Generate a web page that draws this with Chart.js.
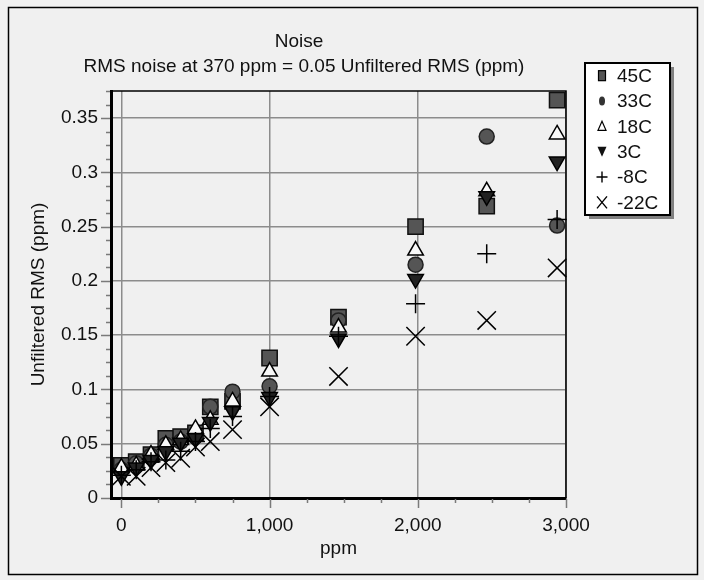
<!DOCTYPE html>
<html><head><meta charset="utf-8">
<script src="https://cdn.jsdelivr.net/npm/chart.js@4/dist/chart.umd.min.js"></script>
<style>html,body{margin:0;padding:0;background:#f0f0f0}#wrap{width:704px;height:580px;position:relative}</style>
</head><body><div id="wrap"><canvas id="c" width="704" height="580"></canvas></div>
<script>
// ---- data ----
const xValues = [0, 100, 200, 300, 400, 500, 600, 750, 1000, 1465, 1985, 2465, 2940];
const seriesNames = ['45C', '33C', '18C', '3C', '-8C', '-22C'];
const s45C  = [0.030, 0.0335, 0.040, 0.055, 0.0566, 0.060, 0.084, 0.089, 0.129, 0.1667, 0.250, 0.269, 0.3665];
const s33C  = [0.026, 0.032, 0.039, 0.049, 0.052, 0.058, 0.084, 0.098, 0.103, 0.1636, 0.215, 0.333, 0.251];
const s18C  = [0.028, 0.030, 0.040, 0.049, 0.0535, 0.0636, 0.072, 0.089, 0.1165, 0.157, 0.228, 0.2826, 0.335];
const s3C   = [0.020, 0.028, 0.035, 0.043, 0.051, 0.055, 0.070, 0.080, 0.093, 0.147, 0.2017, 0.278, 0.310];
const sM8C  = [0.021, 0.026, 0.0335, 0.035, 0.043, 0.052, 0.064, 0.075, 0.0935, 0.149, 0.179, 0.225, 0.2565];
const sM22C = [0.020, 0.020, 0.028, 0.0326, 0.0366, 0.047, 0.052, 0.063, 0.084, 0.112, 0.149, 0.1636, 0.212];
const xTickValues = [0, 1000, 2000, 3000];
const yTickValues = [0, 0.05, 0.1, 0.15, 0.2, 0.25, 0.3, 0.35];
const titleText = 'Noise';
const subtitleText = 'RMS noise at 370 ppm = 0.05 Unfiltered RMS (ppm)';
const xTitle = 'ppm';
const yTitle = 'Unfiltered RMS (ppm)';
const xMinorStep = 250, yMinorStep = 0.0125;

const FONT = "'Liberation Sans', Arial, Helvetica, sans-serif";
const FS = 19;

const styles = [
  {pointStyle: 'rect', radius: 10.8, bg: '#555555', border: '#111111', bw: 1.5, rot: 0},
  {pointStyle: 'circle', radius: 7.5, bg: '#555555', border: '#222222', bw: 1.5, rot: 0},
  {pointStyle: 'triangle', radius: 9, bg: '#f8f8f8', border: '#000000', bw: 1.5, rot: 0},
  {pointStyle: 'triangle', radius: 9, bg: '#222222', border: '#000000', bw: 1.5, rot: 180},
  {pointStyle: 'cross', radius: 9.5, bg: '#000000', border: '#000000', bw: 1.5, rot: 0},
  {pointStyle: 'crossRot', radius: 13, bg: '#000000', border: '#000000', bw: 1.5, rot: 0}
];
const seriesValues = [s45C, s33C, s18C, s3C, sM8C, sM22C];

const datasets = seriesNames.map((name, i) => ({
  label: name,
  data: xValues.map((x, j) => ({x: x, y: seriesValues[i][j]})),
  pointStyle: styles[i].pointStyle,
  pointRadius: styles[i].radius,
  pointHoverRadius: styles[i].radius,
  pointRotation: styles[i].rot,
  backgroundColor: styles[i].bg,
  borderColor: styles[i].border,
  pointBorderWidth: styles[i].bw,
  borderWidth: styles[i].bw,
  showLine: false,
  clip: false,
  order: seriesNames.length - 1 - i
}));

const decor = {
  id: 'decor',
  beforeDraw(chart) {
    const ctx = chart.ctx;
    ctx.save();
    ctx.fillStyle = '#f0f0f0';
    ctx.fillRect(0, 0, chart.width, chart.height);
    ctx.strokeStyle = '#000';
    ctx.lineWidth = 1.5;
    ctx.strokeRect(8.5, 7.5, 689, 567);
    ctx.restore();
  },
  afterDatasetsDraw(chart) {
    const ctx = chart.ctx;
    const a = chart.chartArea;
    const xs = chart.scales.x, ys = chart.scales.y;
    ctx.save();
    ctx.strokeStyle = '#000';
    ctx.lineWidth = 1.5;
    ctx.beginPath();
    ctx.moveTo(a.left, a.top); ctx.lineTo(a.right, a.top); ctx.lineTo(a.right, a.bottom);
    ctx.stroke();
    ctx.strokeStyle = '#7a7a7a';
    ctx.lineWidth = 1.5;
    ctx.beginPath();
    for (let k = 0; k * yMinorStep <= ys.max + 1e-9; k++) {
      const v = k * yMinorStep;
      const p = Math.round(ys.getPixelForValue(v)) + 0.5;
      const major = yTickValues.some(t => Math.abs(t - v) < 1e-9);
      ctx.moveTo(a.left - (major ? 10 : 5), p); ctx.lineTo(a.left - 1, p);
    }
    for (let k = 0; k * xMinorStep <= xs.max + 1e-9; k++) {
      const v = k * xMinorStep;
      const p = Math.round(xs.getPixelForValue(v)) + 0.5;
      const major = xTickValues.some(t => Math.abs(t - v) < 1e-9);
      ctx.moveTo(p, a.bottom + 1); ctx.lineTo(p, a.bottom + (major ? 10 : 5));
    }
    ctx.stroke();
    ctx.restore();
  },
  afterDraw(chart) {
    const ctx = chart.ctx;
    ctx.save();
    ctx.fillStyle = '#111';
    ctx.font = FS + 'px ' + FONT;
    ctx.textAlign = 'center';
    ctx.textBaseline = 'middle';
    ctx.fillText(titleText, 299, 42);
    ctx.fillText(subtitleText, 304, 67);
    const L = 585, T = 63, R = 670, B = 215;
    ctx.fillStyle = '#808080';
    ctx.fillRect(L + 4, T + 4, R - L, B - T);
    ctx.fillStyle = '#ffffff';
    ctx.fillRect(L, T, R - L, B - T);
    ctx.strokeStyle = '#000';
    ctx.lineWidth = 2;
    ctx.strokeRect(L, T, R - L, B - T);
    const rowH = (B - T) / seriesNames.length;
    seriesNames.forEach((name, i) => {
      const cy = T + rowH * (i + 0.5);
      const cx = 602;
      ctx.save();
      ctx.lineWidth = 1.2;
      ctx.strokeStyle = '#000';
      if (i === 0) {
        ctx.fillStyle = '#555'; ctx.fillRect(cx - 3.5, cy - 5, 7, 10); ctx.strokeRect(cx - 3.5, cy - 5, 7, 10);
      } else if (i === 1) {
        ctx.fillStyle = '#333'; ctx.beginPath(); ctx.ellipse(cx, cy, 3, 4.5, 0, 0, Math.PI * 2); ctx.fill();
      } else if (i === 2) {
        ctx.beginPath(); ctx.moveTo(cx, cy - 5); ctx.lineTo(cx + 4, cy + 4); ctx.lineTo(cx - 4, cy + 4); ctx.closePath(); ctx.stroke();
      } else if (i === 3) {
        ctx.fillStyle = '#111'; ctx.beginPath(); ctx.moveTo(cx - 4.5, cy - 5); ctx.lineTo(cx + 4.5, cy - 5); ctx.lineTo(cx, cy + 5); ctx.closePath(); ctx.fill();
      } else if (i === 4) {
        ctx.lineWidth = 1.4; ctx.beginPath(); ctx.moveTo(cx - 5.5, cy); ctx.lineTo(cx + 5.5, cy); ctx.moveTo(cx, cy - 5.5); ctx.lineTo(cx, cy + 5.5); ctx.stroke();
      } else {
        ctx.lineWidth = 1.4; ctx.beginPath(); ctx.moveTo(cx - 5, cy - 6); ctx.lineTo(cx + 5, cy + 6); ctx.moveTo(cx + 5, cy - 6); ctx.lineTo(cx - 5, cy + 6); ctx.stroke();
      }
      ctx.restore();
      ctx.fillStyle = '#111';
      ctx.textAlign = 'left';
      ctx.textBaseline = 'middle';
      ctx.fillText(name, 617, cy + 1);
    });
    ctx.restore();
  }
};

new Chart(document.getElementById('c'), {
  type: 'scatter',
  data: {datasets: datasets},
  options: {
    responsive: false,
    animation: false,
    devicePixelRatio: 1,
    layout: {padding: {left: 0, top: 91, right: 138, bottom: 0}},
    plugins: {legend: {display: false}, tooltip: {enabled: false}, title: {display: false}},
    scales: {
      x: {
        type: 'linear', min: -70, max: 3000,
        afterFit(s) { s.height = 82; },
        afterBuildTicks(s) { s.ticks = xTickValues.map(v => ({value: v})); },
        ticks: {padding: 16, color: '#111', font: {family: FONT, size: FS}, maxRotation: 0, autoSkip: false,
          callback: (v) => Number(v).toLocaleString('en-US')},
        grid: {drawTicks: false, color: '#8c8c8c', lineWidth: 1.5},
        border: {display: true, color: '#000', width: 3},
        title: {display: true, text: xTitle, color: '#111', font: {family: FONT, size: FS}, padding: {top: 0, bottom: 20}}
      },
      y: {
        type: 'linear', min: 0, max: 0.375,
        afterFit(s) { s.width = 111; },
        afterBuildTicks(s) { s.ticks = yTickValues.map(v => ({value: v})); },
        ticks: {padding: 13, color: '#111', font: {family: FONT, size: FS}, autoSkip: false,
          callback: (v) => String(parseFloat(Number(v).toFixed(4)))},
        grid: {drawTicks: false, color: '#8c8c8c', lineWidth: 1.5},
        border: {display: true, color: '#000', width: 3},
        title: {display: true, text: yTitle, color: '#111', font: {family: FONT, size: FS}, padding: {top: 27, bottom: 0}}
      }
    }
  },
  plugins: [decor]
});
</script></body></html>
